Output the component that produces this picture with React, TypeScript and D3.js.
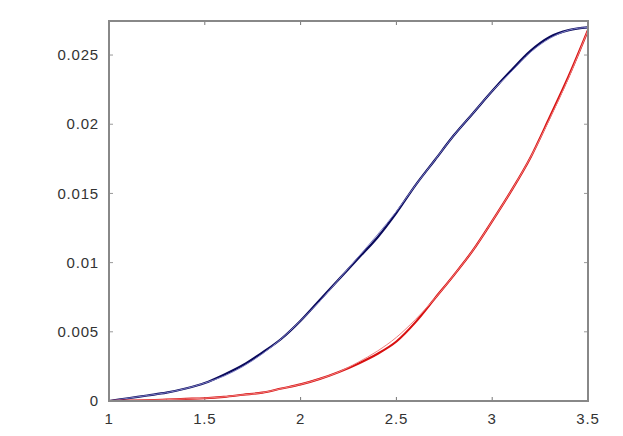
import React from "react";
import * as d3 from "d3";

const W = 623;
const H = 436;

// x grid for both curves
const xs = [1, 1.1, 1.2, 1.3, 1.4, 1.5, 1.6, 1.7, 1.8, 1.9, 2, 2.1, 2.2, 2.3, 2.4, 2.5, 2.6, 2.7, 2.8, 2.9, 3, 3.1, 3.2, 3.3, 3.4, 3.5];

// navy: simulated (thick) and exact (thin)
const navySim = [0, 0.0002, 0.0004, 0.0006, 0.0009, 0.0013, 0.0019, 0.0026, 0.0035, 0.0045, 0.0058, 0.0073, 0.0088, 0.0103, 0.0118, 0.0136, 0.0156, 0.0174, 0.0192, 0.0208, 0.0224, 0.0239, 0.0253, 0.0263, 0.0268, 0.027];
const navyExact = [0, 0.0002, 0.0004, 0.0006, 0.0009, 0.0013, 0.0018, 0.0025, 0.0034, 0.0045, 0.0058, 0.0072, 0.0088, 0.0104, 0.0120, 0.0137, 0.0156, 0.0174, 0.0192, 0.0208, 0.0224, 0.0238, 0.0252, 0.0262, 0.0268, 0.027];

// red: simulated (thick) and exact (thin)
const redSim = [0, 0.00002, 0.00005, 0.0001, 0.00015, 0.0002, 0.0003, 0.00045, 0.0006, 0.0009, 0.0012, 0.0016, 0.0021, 0.0027, 0.0034, 0.0043, 0.0057, 0.0074, 0.0091, 0.0109, 0.013, 0.0152, 0.0176, 0.0205, 0.0235, 0.0268];
const redExact = [0, 0.00002, 0.00005, 0.0001, 0.00015, 0.0002, 0.0003, 0.00045, 0.0006, 0.0009, 0.0012, 0.0016, 0.0021, 0.0028, 0.0036, 0.0046, 0.0059, 0.0074, 0.0091, 0.0109, 0.013, 0.0152, 0.0176, 0.0204, 0.0234, 0.0268];

const xTicks = [1, 1.5, 2, 2.5, 3, 3.5];
const yTicks = [0, 0.005, 0.01, 0.015, 0.02, 0.025];

const margin = { left: 109, right: 35, top: 21, bottom: 35 };

export default function App() {
  const x = d3.scaleLinear().domain([1, 3.5]).range([margin.left, W - margin.right]);
  const y = d3.scaleLinear().domain([0, 0.02746]).range([H - margin.bottom, margin.top]);

  const line = (vals: number[]) =>
    d3
      .line<number>()
      .x((_, i) => x(xs[i]))
      .y((d) => y(d))
      .curve(d3.curveMonotoneX)(vals) || "";

  const x0 = margin.left;
  const x1 = W - margin.right;
  const y0 = H - margin.bottom;
  const y1 = margin.top;
  const font = "'Liberation Sans', Arial, Helvetica, sans-serif";

  return (
    <div style={{ position: "absolute", left: 0, top: 0 }}>
      <svg width={W} height={H} style={{ display: "block", background: "#fff" }}>
        {/* ticks inside the frame */}
        {xTicks.map((t) => (
          <g key={"xt" + t} stroke="#777" strokeWidth={1}>
            <line x1={x(t)} x2={x(t)} y1={y0} y2={y0 - 4} />
            <line x1={x(t)} x2={x(t)} y1={y1} y2={y1 + 4} />
          </g>
        ))}
        {yTicks.map((t) => (
          <g key={"yt" + t} stroke="#999" strokeWidth={1}>
            <line x1={x0} x2={x0 + 4} y1={y(t)} y2={y(t)} />
            <line x1={x1} x2={x1 - 4} y1={y(t)} y2={y(t)} />
          </g>
        ))}

        {/* curves */}
        <path d={line(navySim)} fill="none" stroke="#0a0a5c" strokeWidth={2.2} strokeLinejoin="round" />
        <path d={line(navyExact)} fill="none" stroke="#7d7dc4" strokeWidth={1} />
        <path d={line(redSim)} fill="none" stroke="#d81010" strokeWidth={2.2} strokeLinejoin="round" />
        <path d={line(redExact)} fill="none" stroke="#f08080" strokeWidth={1} />

        {/* frame */}
        <rect x={x0} y={y1} width={x1 - x0} height={y0 - y1} fill="none" stroke="#888" strokeWidth={2} />

        {/* labels */}
        {xTicks.map((t) => (
          <text key={"xl" + t} x={x(t)} y={y0 + 23} textAnchor="middle" fontFamily={font} fontSize={15} letterSpacing={0.8} fill="#333">
            {String(t)}
          </text>
        ))}
        {yTicks.map((t) => (
          <text key={"yl" + t} x={99} y={y(t)} dy="0.35em" textAnchor="end" fontFamily={font} fontSize={15} letterSpacing={0.8} fill="#333">
            {String(t)}
          </text>
        ))}
      </svg>
    </div>
  );
}
